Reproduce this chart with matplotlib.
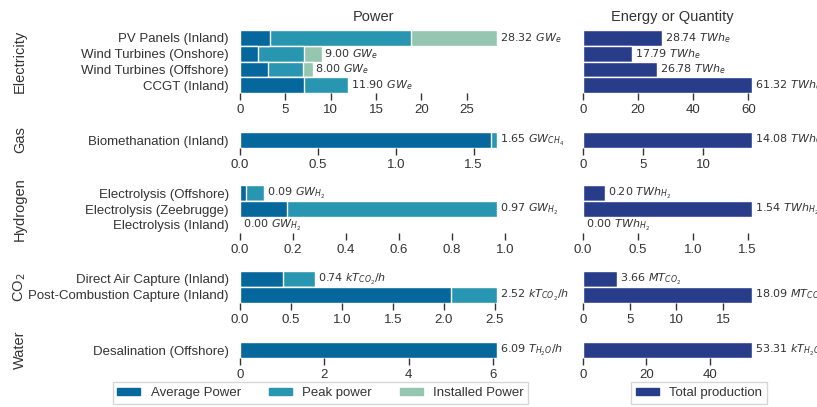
import matplotlib.pyplot as plt
from matplotlib.patches import Patch

# ---- data ----
groups = ["Electricity", "Gas", "Hydrogen", "CO$_2$", "Water"]

elec_tech = ["PV Panels (Inland)", "Wind Turbines (Onshore)", "Wind Turbines (Offshore)", "CCGT (Inland)"]
elec_avg = [3.28, 2.03, 3.06, 7.00]
elec_peak = [18.8, 7.1, 6.95, 11.90]
elec_inst = [28.32, 9.00, 8.00, 11.90]
elec_energy = [28.74, 17.79, 26.78, 61.32]

gas_tech = ["Biomethanation (Inland)"]
gas_avg = [1.61]
gas_peak = [1.65]
gas_inst = [1.65]
gas_energy = [14.08]

h2_tech = ["Electrolysis (Offshore)", "Electrolysis (Zeebrugge)", "Electrolysis (Inland)"]
h2_avg = [0.023, 0.176, 0.0]
h2_peak = [0.09, 0.97, 0.0]
h2_inst = [0.09, 0.97, 0.0]
h2_energy = [0.20, 1.54, 0.00]

co2_tech = ["Direct Air Capture (Inland)", "Post-Combustion Capture (Inland)"]
co2_avg = [0.42, 2.07]
co2_peak = [0.74, 2.52]
co2_inst = [0.74, 2.52]
co2_energy = [3.66, 18.09]

water_tech = ["Desalination (Offshore)"]
water_avg = [6.09]
water_peak = [6.09]
water_inst = [6.09]
water_energy = [53.31]

power_units = ["$GW_e$", "$GW_{CH_4}$", "$GW_{H_2}$", "$kT_{CO_2}/h$", "$T_{H_2O}/h$"]
energy_units = ["$TWh_e$", "$TWh_{CH_4}$", "$TWh_{H_2}$", "$MT_{CO_2}$", "$kT_{H_2O}$"]
power_ticks = [[0, 5, 10, 15, 20, 25], [0, 0.5, 1.0, 1.5], [0, 0.2, 0.4, 0.6, 0.8, 1.0],
               [0, 0.5, 1.0, 1.5, 2.0, 2.5], [0, 2, 4, 6]]
energy_ticks = [[0, 20, 40, 60], [0, 5, 10], [0, 0.5, 1.0, 1.5], [0, 5, 10, 15], [0, 20, 40]]
power_xmax = [28.32, 1.65, 1.0, 2.52, 6.09]

techs = [elec_tech, gas_tech, h2_tech, co2_tech, water_tech]
avgs = [elec_avg, gas_avg, h2_avg, co2_avg, water_avg]
peaks = [elec_peak, gas_peak, h2_peak, co2_peak, water_peak]
insts = [elec_inst, gas_inst, h2_inst, co2_inst, water_inst]
energies = [elec_energy, gas_energy, h2_energy, co2_energy, water_energy]

c_avg = "#05679c"
c_peak = "#2896b0"
c_inst = "#95c6af"
c_total = "#273d8a"
txt = "#333333"

plt.rcParams['font.family'] = ['Liberation Sans', 'DejaVu Sans']
plt.rcParams['font.size'] = 9.5
plt.rcParams['text.color'] = txt

W, H = 817, 407
fig = plt.figure(figsize=(W / 100, H / 100), dpi=100)


def px(x0, x1, y0, y1):
    return [x0 / W, 1 - y1 / H, (x1 - x0) / W, (y1 - y0) / H]


# axes top pixel for each group, ~16 px per row
tops = [30, 132, 185, 271, 342]
row_h = [15.8, 16, 16, 16, 16]

for i in range(len(groups)):
    n = len(techs[i])
    y0 = tops[i]
    y1 = y0 + n * row_h[i]
    tot = max(insts[i])
    left_w = 257 * power_xmax[i] / tot
    axl = fig.add_axes(px(240, 240 + left_w, y0, y1))
    axr = fig.add_axes(px(583, 752, y0, y1))

    ys = list(range(n))
    axl.barh(ys, insts[i], height=1, color=c_inst, edgecolor="white", lw=1)
    axl.barh(ys, peaks[i], height=1, color=c_peak, edgecolor="white", lw=1)
    axl.barh(ys, avgs[i], height=1, color=c_avg, edgecolor="white", lw=1)
    for y, v in zip(ys, insts[i]):
        axl.annotate(f"{v:.2f} " + power_units[i], (v, y), xytext=(2, 0), textcoords="offset points",
                     va="center", ha="left", fontsize=8, family="DejaVu Sans", color=txt,
                     annotation_clip=False)
    axl.set_xlim(0, power_xmax[i])
    axl.set_ylim(n - 0.5, -0.5)
    axl.set_yticks(ys)
    axl.set_yticklabels(techs[i])
    axl.set_xticks(power_ticks[i])

    axr.barh(ys, energies[i], height=1, color=c_total, edgecolor="white", lw=1)
    for y, v in zip(ys, energies[i]):
        axr.annotate(f"{v:.2f} " + energy_units[i], (v, y), xytext=(2, 0), textcoords="offset points",
                     va="center", ha="left", fontsize=8, family="DejaVu Sans", color=txt,
                     annotation_clip=False)
    axr.set_xlim(0, max(energies[i]))
    axr.set_ylim(n - 0.5, -0.5)
    axr.set_yticks([])
    axr.set_xticks(energy_ticks[i])

    for ax in (axl, axr):
        for s in ax.spines.values():
            s.set_visible(False)
        ax.tick_params(axis="x", direction="out", length=5, width=1, color=txt, labelcolor=txt, pad=3)
        ax.tick_params(axis="y", length=0, labelcolor=txt, pad=8)
        ax.set_facecolor("none")

    fig.text(20 / W, 1 - (y0 + y1) / 2 / H, groups[i], rotation=90, ha="center", va="center",
             fontsize=10.5, color=txt)

fig.text(374 / W, 1 - 17 / H, "Power", ha="center", va="center", fontsize=10.5, color=txt)
fig.text(672 / W, 1 - 17 / H, "Energy or Quantity", ha="center", va="center", fontsize=10.5, color=txt)

leg_kw = dict(frameon=True, fancybox=False, edgecolor="#cccccc", handlelength=1.75, handleheight=0.5,
              borderpad=0.35, borderaxespad=0, fontsize=9.5, loc="center")
h1 = [Patch(color=c_avg), Patch(color=c_peak), Patch(color=c_inst)]
leg1 = fig.legend(h1, ["Average Power", "Peak power", "Installed Power"], ncol=3,
                  bbox_to_anchor=(320.5 / W, 1 - 393 / H), columnspacing=2.1, **leg_kw)
leg2 = fig.legend([Patch(color=c_total)], ["Total production"], ncol=1,
                  bbox_to_anchor=(699 / W, 1 - 393 / H), **leg_kw)

fig.savefig("out.png", dpi=100)
